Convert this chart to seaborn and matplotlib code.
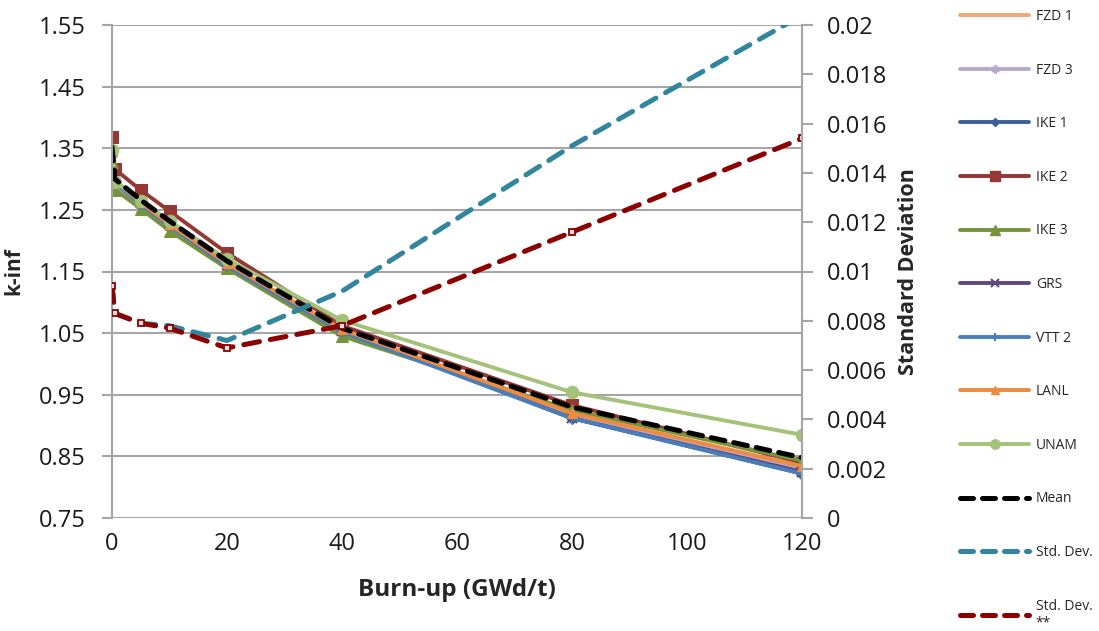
import matplotlib
matplotlib.use("Agg")
import matplotlib.pyplot as plt
import seaborn as sns
import pandas as pd
from matplotlib.lines import Line2D

sns.set_theme(style="white")
plt.rcParams['font.family'] = ['Open Sans', 'DejaVu Sans']

burnup = [0, 0.5, 5, 10, 20, 40, 80, 120]

fzd1 = [1.350, 1.298, 1.262, 1.228, 1.162, 1.055, 0.918, 0.828]
fzd3 = [1.340, 1.290, 1.255, 1.222, 1.158, 1.052, 0.915, 0.830]
ike1 = [1.345, 1.295, 1.260, 1.225, 1.160, 1.053, 0.912, 0.822]
ike2 = [1.368, 1.316, 1.282, 1.248, 1.180, 1.062, 0.933, 0.840]
ike3 = [1.328, 1.283, 1.252, 1.216, 1.155, 1.045, 0.925, 0.843]
grs = [1.345, 1.296, 1.261, 1.226, 1.161, 1.054, 0.912, 0.825]
vtt2 = [1.343, 1.294, 1.259, 1.224, 1.159, 1.052, 0.912, 0.822]
lanl = [1.347, 1.297, 1.262, 1.227, 1.163, 1.056, 0.920, 0.834]
unam = [1.347, 1.296, 1.265, 1.232, 1.170, 1.071, 0.954, 0.885]
mean = [1.352, 1.300, 1.266, 1.232, 1.167, 1.058, 0.930, 0.848]

std_dev = [0.0094, 0.0083, 0.0079, 0.0078, 0.0072, 0.0092, 0.0151, 0.0204]
std_dev2 = [0.0094, 0.0083, 0.0079, 0.0077, 0.0069, 0.0078, 0.0116, 0.0154]

left_ticks = [0.75, 0.85, 0.95, 1.05, 1.15, 1.25, 1.35, 1.45, 1.55]
right_ticks = [0, 0.002, 0.004, 0.006, 0.008, 0.01, 0.012, 0.014, 0.016, 0.018, 0.02]
right_labels = ["0", "0.002", "0.004", "0.006", "0.008", "0.01", "0.012", "0.014", "0.016", "0.018", "0.02"]
x_ticks = [0, 20, 40, 60, 80, 100, 120]

series = [
    ("FZD 1", fzd1, "#F9A56E", None, 0),
    ("FZD 3", fzd3, "#B8A9CC", (6, 2, 0), 8),
    ("IKE 1", ike1, "#3A5F99", "D", 6),
    ("IKE 2", ike2, "#953735", "s", 9),
    ("IKE 3", ike3, "#77933C", "^", 9),
    ("GRS", grs, "#604A7B", "x", 7),
    ("VTT 2", vtt2, "#4A7EBB", "+", 8),
    ("LANL", lanl, "#F08A3E", "^", 7),
    ("UNAM", unam, "#A4C27A", "o", 9),
]

fig = plt.figure(figsize=(10.99, 6.31), dpi=100)
ax = fig.add_axes([112 / 1099, 1 - 518 / 631, (802 - 112) / 1099, (518 - 25) / 631])

handles = []
for name, vals, col, mk, ms in series:
    df = pd.DataFrame({"burnup": burnup, "k": vals})
    kw = dict(marker=mk, markersize=ms, markeredgecolor=col, markerfacecolor=col) if mk else {}
    if mk in ("x", "+", (6, 2, 0)):
        kw["markeredgewidth"] = 1.5
    sns.lineplot(data=df, x="burnup", y="k", ax=ax, color=col, linewidth=2.8,
                 legend=False, **kw)
    handles.append(Line2D([], [], color=col, linewidth=2.8,
                          marker=mk if mk else None, markersize=ms * 0.75,
                          markeredgewidth=1.5 if mk in ("x", "+", (6, 2, 0)) else 1,
                          markerfacecolor=col, markeredgecolor=col,
                          solid_capstyle="round"))

dfm = pd.DataFrame({"burnup": burnup, "k": mean})
sns.lineplot(data=dfm, x="burnup", y="k", ax=ax, color="black", linewidth=3.6,
             linestyle=(0, (2.8, 1.8)), dash_capstyle="round", legend=False)
handles.append(Line2D([], [], color="black", linewidth=3.6, linestyle=(0, (2.6, 1.8)),
                      dash_capstyle="round"))

ax.set_xlim(0, 120)
ax.set_ylim(0.75, 1.55)
ax.set_yticks(left_ticks)
ax.set_yticklabels([f"{t:.2f}" for t in left_ticks])
ax.set_xticks(x_ticks)
ax.grid(axis="y", color="#A6A6A6", linewidth=1.5)
ax.grid(axis="x", visible=False)
for s in ["top", "bottom"]:
    ax.spines[s].set_visible(False)
for s in ["left", "right"]:
    ax.spines[s].set_color("#A6A6A6")
    ax.spines[s].set_linewidth(1.5)
ax.tick_params(axis="y", which="both", left=True, length=7, width=1.5, color="#A6A6A6",
               labelsize=17, pad=12, labelcolor="#1a1a1a")
ax.tick_params(axis="x", bottom=False, labelsize=17, pad=4, labelcolor="#1a1a1a")
ax.set_xlabel("Burn-up (GWd/t)", fontsize=17.5, fontweight="bold", labelpad=16)
ax.set_ylabel("k-inf", fontsize=15, fontweight="bold", labelpad=10)

ax2 = ax.twinx()
df1 = pd.DataFrame({"burnup": burnup, "s": std_dev})
df2 = pd.DataFrame({"burnup": burnup, "s": std_dev2})
sns.lineplot(data=df1, x="burnup", y="s", ax=ax2, color="#31859C", linewidth=3.6,
             linestyle=(0, (3.2, 2.2)), dash_capstyle="round", legend=False)
sns.lineplot(data=df2, x="burnup", y="s", ax=ax2, color="#8B0000", linewidth=3.6,
             linestyle=(0, (3.2, 2.2)), dash_capstyle="round", legend=False,
             marker="s", markersize=5, markerfacecolor="#D8DDE6",
             markeredgecolor="#8B0000", markeredgewidth=1.3)
handles.append(Line2D([], [], color="#31859C", linewidth=3.6, linestyle=(0, (2.6, 1.8)),
                      dash_capstyle="round"))
handles.append(Line2D([], [], color="#8B0000", linewidth=3.6, linestyle=(0, (2.6, 1.8)),
                      dash_capstyle="round"))
ax2.set_ylim(0, 0.02)
ax2.set_yticks(right_ticks)
ax2.set_yticklabels(right_labels)
ax2.grid(False)
for s in ["top", "bottom", "left"]:
    ax2.spines[s].set_visible(False)
ax2.spines["right"].set_color("#A6A6A6")
ax2.spines["right"].set_linewidth(1.5)
ax2.tick_params(axis="y", right=True, length=8, width=1.5, color="#A6A6A6",
                labelsize=17, pad=10, labelcolor="#1a1a1a")
ax2.set_ylabel("Standard Deviation", fontsize=15.5, fontweight="bold", labelpad=8)

labels = [s[0] for s in series] + ["Mean", "Std. Dev.", "Std. Dev.\n**"]
leg = fig.legend(handles, labels, loc="upper left", bbox_to_anchor=(960 / 1099, 1 - 9 / 631),
                 frameon=False, fontsize=10, handlelength=5.0, handletextpad=0.45,
                 labelspacing=2.78, borderpad=0, borderaxespad=0)

fig.savefig("out.png", dpi=100)
